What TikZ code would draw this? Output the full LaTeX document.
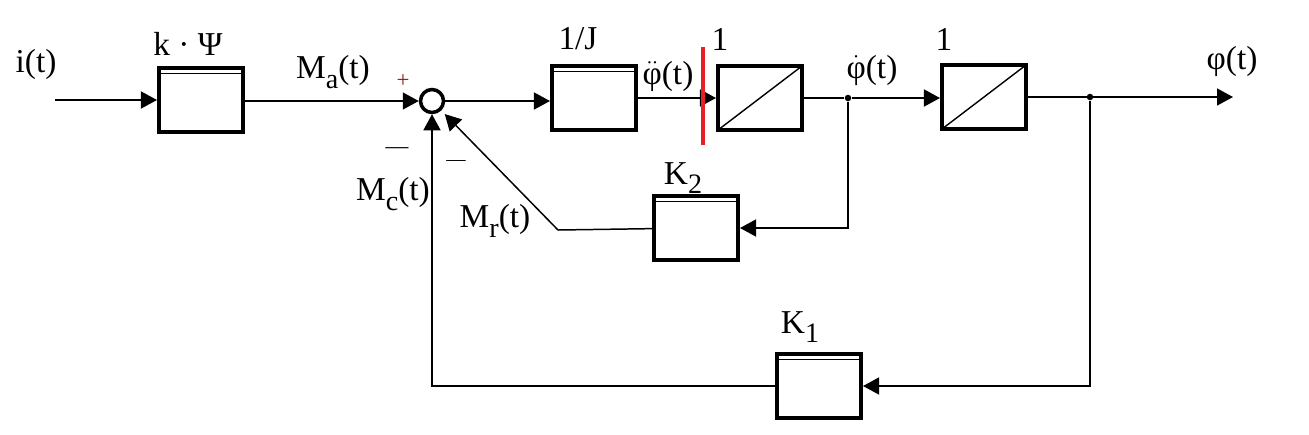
\documentclass[tikz,border=0pt]{standalone}
\usepackage{amsmath}
\usepackage{fontspec}
\setmainfont{Liberation Serif}
\usetikzlibrary{arrows.meta}
\definecolor{markred}{RGB}{228,32,40}
\definecolor{plusred}{RGB}{150,30,30}
\newcommand{\lowsub}[1]{\raisebox{-0.28em}{\fontsize{16}{17}\selectfont #1}}

\begin{document}
\begin{tikzpicture}[x=0.02cm,y=-0.02cm,
  >={Triangle[length=0.32cm,width=0.34cm]},
  every node/.style={font=\fontsize{19}{21}\selectfont,inner sep=2pt},
  blk/.style={draw,line width=2.3pt,minimum width=1.68cm,minimum height=1.28cm,inner sep=0pt},
  gainbox/.style={blk,path picture={\draw[line width=0.6pt] ([yshift=-0.11cm]path picture bounding box.north west) -- ([yshift=-0.11cm]path picture bounding box.north east);}},
  intbox/.style={blk,path picture={\draw[line width=0.8pt] (path picture bounding box.south west) -- (path picture bounding box.north east);}},
  sumpt/.style={draw,circle,line width=2pt,minimum size=0.46cm,inner sep=0pt},
  sig/.style={line width=0.85pt},
  dot/.style={circle,fill,inner sep=0pt,minimum size=0.13cm}]
  \useasboundingbox (0,0) rectangle (1309,434);
  \node[gainbox] (kpsi) at (201,100) {};
  \node[sumpt] (sum) at (432,101) {};
  \node[gainbox] (invJ) at (594,98) {};
  \node[intbox] (int1) at (760,98) {};
  \node[intbox] (int2) at (984,97) {};
  \node[gainbox] (K2) at (696,228) {};
  \node[gainbox] (K1) at (819,386) {};
  \coordinate (in) at (55,100);
  \coordinate (out) at (1233,97);
  \coordinate (kink) at (558,230);
  \node[dot] (b1) at (848,98) {};
  \node[dot] (b2) at (1090,97) {};
  \draw[sig,->] (in) -- (kpsi);
  \draw[sig,->] (kpsi.east |- sum) -- (sum);
  \draw[sig,->] (sum.east) -- (sum.east -| invJ.west);
  \draw[sig,->] (invJ) -- (int1);
  \draw[sig,->] (int1.east) -- (b1) -- (b1 -| int2.west);
  \draw[sig,->] (int2) -- (out);
  \draw[sig,->] (b1) |- (K2);
  \draw[sig] (K2) -- (kink);
  \draw[sig,->,shorten >=0.1cm] (kink) -- (sum);
  \draw[sig,->] (b2) |- (K1);
  \draw[sig,->] (K1) -| (sum);
  \draw[markred,line width=0.09cm] (703,47) -- (703,145);
  \node (lin) at (36,64) {i(t)};
  \node (lkpsi) at (188,44) {k · Ψ};
  \node (lMa) at (333,72) {M\lowsub{a}(t)};
  \node[text=plusred,font=\fontsize{13}{14}\selectfont] (lplus) at (403,81) {+};
  \node[font=\fontsize{13}{14}\selectfont] (lminc) at (397,151) {—};
  \node[font=\fontsize{11}{12}\selectfont] (lminr) at (456,163) {—};
  \node (lMc) at (393,194) {M\lowsub{c}(t)};
  \node (lMr) at (495,221) {M\lowsub{r}(t)};
  \node (lJ) at (578,39) {1/J};
  \node (lacc) at (668,76) {$\ddot{\text{φ}}$(t)};
  \node (lone1) at (720,39) {1};
  \node (lvel) at (872,70) {$\dot{\text{φ}}$(t)};
  \node (lone2) at (944,39) {1};
  \node (lpos) at (1232,61) {φ(t)};
  \node (lK2) at (683,178) {K\lowsub{2}};
  \node (lK1) at (800,327) {K\lowsub{1}};
\end{tikzpicture}
\end{document}
